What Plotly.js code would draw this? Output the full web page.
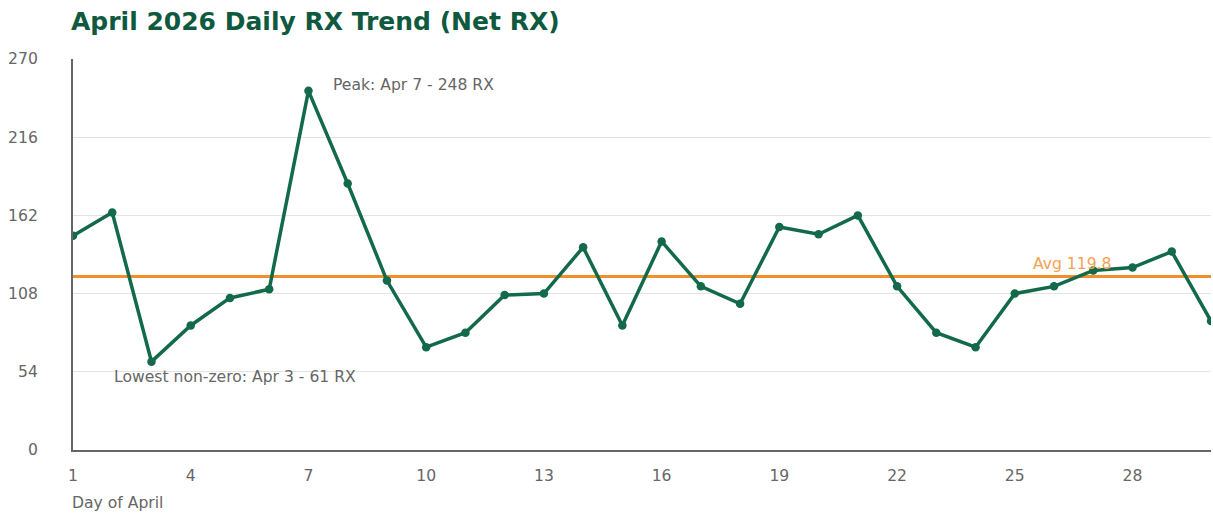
<!DOCTYPE html>
<html>
<head>
<meta charset="utf-8">
<script src="https://cdn.plot.ly/plotly-3.0.1.min.js"></script>
<style>html,body{margin:0;padding:0;background:#fff;}#chart{width:1213px;height:518px;}</style>
</head>
<body>
<div id="chart"></div>
<script>
const days = [1,2,3,4,5,6,7,8,9,10,11,12,13,14,15,16,17,18,19,20,21,22,23,24,25,26,27,28,29,30];
const netRx = [148,164,61,86,105,111,248,184,117,71,81,107,108,140,86,144,113,101,154,149,162,113,81,71,108,113,124,126,137,89];
const avgValue = 119.8;
const yTicks = [0,54,108,162,216,270];
const xTicks = [1,4,7,10,13,16,19,22,25,28];
const titleText = "April 2026 Daily RX Trend (Net RX)";
const xTitleText = "Day of April";
const peakText = "Peak: Apr 7 - 248 RX";
const lowText = "Lowest non-zero: Apr 3 - 61 RX";
const avgText = "Avg 119.8";
const peakDay = 7, peakVal = 248, lowDay = 3, lowVal = 61;

const green = "#136a4a";
const orange = "#f28e2b";
const font = "DejaVu Sans, sans-serif";
const fs = 15.6;

const traces = [
  {
    x: [days[0], days[days.length-1]],
    y: [avgValue, avgValue],
    mode: "lines",
    line: {color: orange, width: 2.8},
    hoverinfo: "skip",
    showlegend: false
  },
  {
    x: days,
    y: netRx,
    mode: "lines+markers",
    line: {color: green, width: 3.5},
    marker: {color: green, size: 8.5},
    showlegend: false
  }
];

const layout = {
  width: 1213,
  height: 518,
  margin: {l: 73, r: 2, t: 59, b: 68},
  paper_bgcolor: "#fff",
  plot_bgcolor: "#fff",
  font: {family: font, color: "#666", size: fs},
  title: {
    text: "<b>" + titleText + "</b>",
    font: {family: font, size: 25, color: "#0f5a3f"},
    x: 71/1213, xanchor: "left",
    y: 1 - 21/518, yanchor: "middle"
  },
  xaxis: {
    range: [1, 30],
    tickvals: xTicks,
    ticktext: xTicks.map(String),
    showgrid: false,
    zeroline: false,
    showline: true,
    linecolor: "#666",
    linewidth: 2,
    ticks: "",
    ticklabelstandoff: 10,
    tickfont: {family: font, size: fs, color: "#666"},
    fixedrange: true
  },
  yaxis: {
    range: [0, 270],
    tickvals: yTicks,
    ticktext: yTicks.map(String),
    showgrid: true,
    gridcolor: "#e3e3e3",
    gridwidth: 1,
    zeroline: false,
    showline: true,
    linecolor: "#666",
    linewidth: 2,
    ticks: "",
    ticklabelstandoff: 30,
    tickfont: {family: font, size: fs, color: "#666"},
    fixedrange: true
  },
  annotations: [
    {
      x: peakDay, y: peakVal, xref: "x", yref: "y",
      text: peakText, showarrow: false,
      xanchor: "left", yanchor: "middle",
      xshift: 23, yshift: 6,
      font: {family: font, size: fs, color: "#666"}
    },
    {
      x: lowDay, y: lowVal, xref: "x", yref: "y",
      text: lowText, showarrow: false,
      xanchor: "left", yanchor: "middle",
      xshift: -39, yshift: -15,
      font: {family: font, size: fs, color: "#666"}
    },
    {
      x: 26.45, y: avgValue, xref: "x", yref: "y",
      text: avgText, showarrow: false,
      xanchor: "center", yanchor: "middle",
      yshift: 13,
      font: {family: font, size: fs, color: "#f5a24f"}
    },
    {
      x: 0, y: 0, xref: "paper", yref: "paper",
      text: xTitleText, showarrow: false,
      xanchor: "left", yanchor: "middle",
      xshift: -3, yshift: -53,
      font: {family: font, size: fs, color: "#666"}
    }
  ]
};

Plotly.newPlot("chart", traces, layout, {displayModeBar: false, staticPlot: true});
</script>
</body>
</html>
